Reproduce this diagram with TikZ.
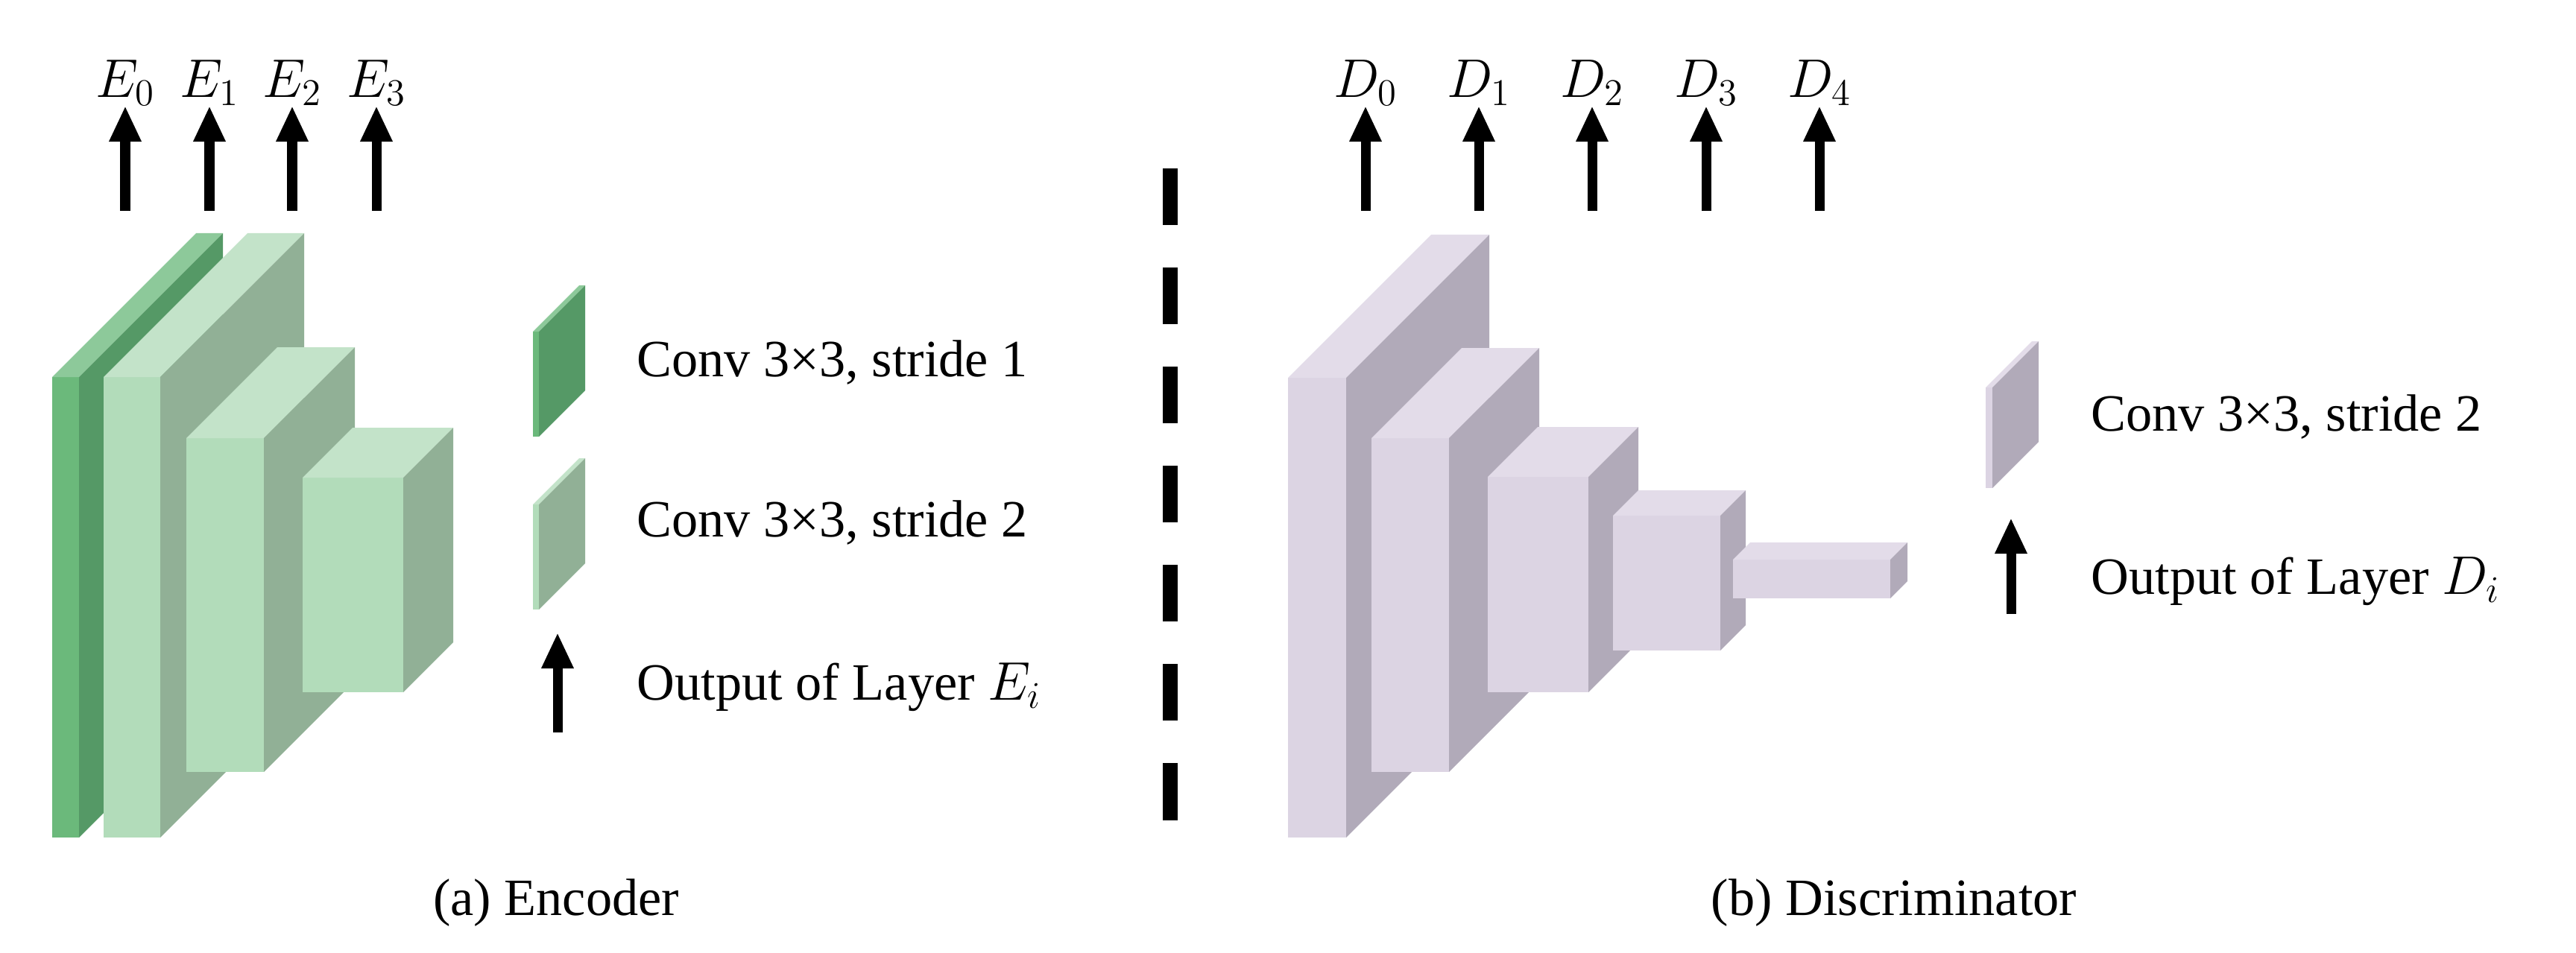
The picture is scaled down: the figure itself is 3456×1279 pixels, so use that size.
\documentclass[tikz,border=0pt]{standalone}
\usepackage{fontspec}
\setmainfont{Liberation Serif}
\usetikzlibrary{arrows.meta}
\definecolor{encAfront}{HTML}{6BB97B}
\definecolor{encAside}{HTML}{559966}
\definecolor{encAtop}{HTML}{8DC99A}
\definecolor{encBfront}{HTML}{B2DCBA}
\definecolor{encBside}{HTML}{91B096}
\definecolor{encBtop}{HTML}{C3E3C9}
\definecolor{disfront}{HTML}{DCD4E3}
\definecolor{disside}{HTML}{B1AAB9}
\definecolor{distop}{HTML}{E3DCE9}
% block: x, top y, width, height, depth, colour prefix
\newcommand{\convblock}[6]{%
    \fill[#6front] (#1,#2) rectangle ({#1+#3},{#2+#4});
    \fill[#6top] (#1,#2) -- ({#1+#5},{#2-#5}) -- ({#1+#3+#5},{#2-#5}) -- ({#1+#3},#2) -- cycle;
    \fill[#6side] ({#1+#3},#2) -- ({#1+#3+#5},{#2-#5}) -- ({#1+#3+#5},{#2+#4-#5}) -- ({#1+#3},{#2+#4}) -- cycle;
}
\tikzset{
    txt/.style = {font=\fontsize{20}{24}\selectfont, inner sep=0pt},
    outarrow/.style = {line width=0.13cm, -{Triangle[length=0.48cm, width=0.4cm]}},
}
\begin{document}
\begin{tikzpicture}[x=0.01cm, y=-0.01cm]
    \useasboundingbox (0,0) rectangle (3456,1279);
    % encoder
    \convblock{70}{506}{36}{618}{193}{encA}
    \convblock{139}{506}{76}{618}{193}{encB}
    \convblock{250}{588}{104}{448}{122}{encB}
    \convblock{406}{641}{135}{288}{67}{encB}
    \foreach \i/\x in {0/168,1/281,2/392,3/505}{
        \coordinate (ea\i) at (\x,283);
        \node[txt, anchor=south] (E\i) at (\x,142) {$E_\i$};
        \draw[outarrow] (ea\i) -- (E\i);
    }
    % encoder legend
    \convblock{715}{445}{8}{141}{62}{encA}
    \convblock{715}{677}{8}{141}{62}{encB}
    \node[txt, anchor=west] (s1) at (854,487) {Conv 3×3, stride 1};
    \node[txt, anchor=west] (s2) at (854,702) {Conv 3×3, stride 2};
    \node[txt, anchor=west] (oe) at (854,922) {Output of Layer $E_i$};
    \coordinate (la) at (748,983);
    \coordinate (lb) at (748,849);
    \draw[outarrow] (la) -- (lb);
    \node[txt] (capa) at (746,1212) {(a) Encoder};
    % separator
    \draw[line width=0.2cm, dash pattern=on 0.76cm off 0.57cm] (1570,226) -- (1570,1102);
    % discriminator
    \convblock{1728}{507}{78}{617}{192}{dis}
    \convblock{1840}{588}{104}{448}{121}{dis}
    \convblock{1996}{640}{135}{289}{67}{dis}
    \convblock{2164}{692}{144}{181}{34}{dis}
    \convblock{2325}{751}{211}{52}{23}{dis}
    \foreach \i/\x in {0/1832,1/1984,2/2136,3/2289,4/2441}{
        \coordinate (da\i) at (\x,283);
        \node[txt, anchor=south] (D\i) at (\x,142) {$D_\i$};
        \draw[outarrow] (da\i) -- (D\i);
    }
    % discriminator legend
    \convblock{2664}{520}{9}{135}{62}{dis}
    \node[txt, anchor=west] (s3) at (2805,560) {Conv 3×3, stride 2};
    \node[txt, anchor=west] (od) at (2805,780) {Output of Layer $D_i$};
    \coordinate (lc) at (2698,824);
    \coordinate (ld) at (2698,695);
    \draw[outarrow] (lc) -- (ld);
    \node[txt] (capb) at (2541,1212) {(b) Discriminator};
\end{tikzpicture}
\end{document}
